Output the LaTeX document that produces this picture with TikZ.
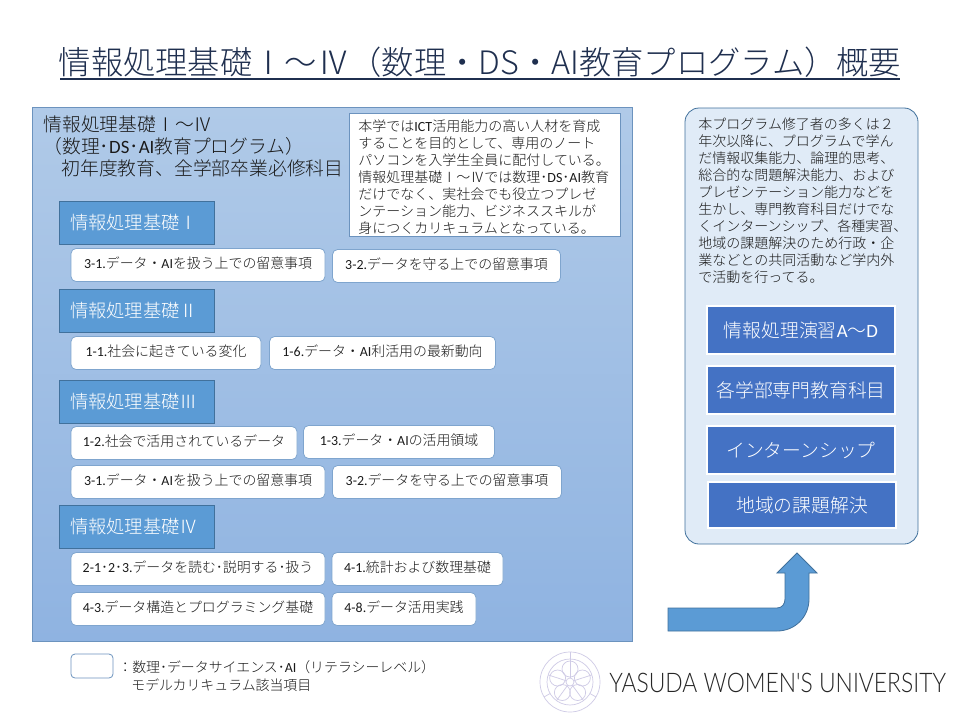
\documentclass[tikz,border=0pt]{standalone}
\usepackage{fontspec}
\setmainfont{Noto Sans CJK JP Light}
\newfontfamily\latin{Carlito}
\newfontfamily\logofont{Lato Light}[FakeStretch=0.847]
\newcommand{\en}[1]{{\latin #1}}
\definecolor{panelline}{HTML}{6C93BE}
\definecolor{itemline}{HTML}{7FA5CE}
\definecolor{paneltop}{HTML}{B0CAE8}
\definecolor{panelbottom}{HTML}{8FB3E1}
\definecolor{headblue}{HTML}{5B9BD5}
\definecolor{headline}{HTML}{41719C}
\definecolor{boxblue}{HTML}{4472C4}
\definecolor{sidefill}{HTML}{E0EBF7}
\definecolor{titleink}{HTML}{1F2F4F}
\definecolor{bodyink}{HTML}{1A1A1A}
\definecolor{logoline}{HTML}{CFCBE6}
\tikzset{
  headbox/.style={draw=headline,fill=headblue,text=white,minimum height=43,text width=133,
    inner xsep=11,inner ysep=0,align=left,font=\fontsize{18.3}{20}\selectfont},
  itembox/.style={draw=itemline,fill=white,rounded corners=5,minimum height=33,inner sep=0,
    text height=12,text depth=5,text=bodyink,font=\fontsize{13.9}{16}\selectfont},
  sidebox/.style={draw=white,line width=1.5,fill=boxblue,text=white,minimum width=188,inner sep=0,
    font=\fontsize{18.8}{20}\selectfont},
  bodytext/.style={text=bodyink,align=left,inner sep=0,font=\fontsize{14}{17}\selectfont},
}
\begin{document}
\begin{tikzpicture}[x=1pt,y=-1pt,line width=.8]
  \useasboundingbox[fill=white] (0,0) rectangle (960,720);
  \node[inner sep=0,text=titleink,font=\fontsize{32.3}{36}\selectfont] (title) at (480,62)
    {情報処理基礎Ⅰ～Ⅳ（数理・DS・AI教育プログラム）概要};
  \draw[titleink,line width=1.5] (60,79) -- (900,79);
  % left panel
  \draw[panelline,top color=paneltop,bottom color=panelbottom] (32,107) rectangle (632,641);
  \node[anchor=north west,inner sep=0,text=bodyink,align=left,font=\fontsize{18.8}{22}\selectfont] (paneltext) at (43,115)
    {情報処理基礎Ⅰ～Ⅳ\\
     （数理･\en{DS}･\en{AI}教育プログラム）\\
     \hspace{18pt}初年度教育、全学部卒業必修科目};
  \node[draw=panelline,fill=white,minimum width=271,minimum height=123,inner sep=0] (note) at (484.5,174.5) {};
  \node[bodytext,anchor=north west] (notetext) at (358,119.5)
    {本学では\en{ICT}活用能力の高い人材を育成\\
     することを目的として、専用のノート\\
     パソコンを入学生全員に配付している。\\
     情報処理基礎Ⅰ～Ⅳでは数理･\en{DS}･\en{AI}教育\\
     だけでなく、実社会でも役立つプレゼ\\
     ンテーション能力、ビジネススキルが\\
     身につくカリキュラムとなっている。};
  \node[headbox] (head1) at (136.5,222.5) {情報処理基礎Ⅰ};
  \node[itembox,minimum width=254] (item31a) at (198,265) {\en{3-1.}データ・\en{AI}を扱う上での留意事項};
  \node[itembox,minimum width=228] (item32a) at (446.5,266) {\en{3-2.}データを守る上での留意事項};
  \node[headbox] (head2) at (136.5,311) {情報処理基礎Ⅱ};
  \node[itembox,minimum width=190] (item11) at (166,353) {\en{1-1.}社会に起きている変化};
  \node[itembox,minimum width=226] (item16) at (382.5,353) {\en{1-6.}データ・\en{AI}利活用の最新動向};
  \node[headbox] (head3) at (136.5,401.5) {情報処理基礎Ⅲ};
  \node[itembox,minimum width=226] (item12) at (184,443) {\en{1-2.}社会で活用されているデータ};
  \node[itembox,minimum width=191] (item13) at (399,442) {\en{1-3.}データ・\en{AI}の活用領域};
  \node[itembox,minimum width=254] (item31b) at (198,482) {\en{3-1.}データ・\en{AI}を扱う上での留意事項};
  \node[itembox,minimum width=229] (item32b) at (447,482) {\en{3-2.}データを守る上での留意事項};
  \node[headbox] (head4) at (136.5,526.5) {情報処理基礎Ⅳ};
  \node[itembox,minimum width=254] (item21) at (198,569) {\en{2-1}･\en{2}･\en{3.}データを読む･説明する･扱う};
  \node[itembox,minimum width=171] (item41) at (417.5,569) {\en{4-1.}統計および数理基礎};
  \node[itembox,minimum width=254] (item43) at (198,609) {\en{4-3.}データ構造とプログラミング基礎};
  \node[itembox,minimum width=144] (item48) at (404,609) {\en{4-8.}データ活用実践};
  % right panel
  \draw[headline,fill=sidefill,rounded corners=14] (685,108) rectangle (918,544);
  \node[bodytext,anchor=north west] (sidetext) at (698,117)
    {本プログラム修了者の多くは２\\
     年次以降に、プログラムで学ん\\
     だ情報収集能力、論理的思考、\\
     総合的な問題解決能力、および\\
     プレゼンテーション能力などを\\
     生かし、専門教育科目だけでな\\
     くインターンシップ、各種実習、\\
     地域の課題解決のため行政・企\\
     業などとの共同活動など学内外\\
     で活動を行ってる。};
  \node[sidebox,minimum height=48] (enshu) at (801,330) {情報処理演習\en{A}～\en{D}};
  \node[sidebox,minimum height=48] (senmon) at (801,390) {各学部専門教育科目};
  \node[sidebox,minimum height=48] (intern) at (801,450) {インターンシップ};
  \node[sidebox,minimum height=46] (chiiki) at (802,505) {地域の課題解決};
  % bent arrow
  \draw[headline,fill=headblue] (668,608) -- (777,608) .. controls (782,608) and (785,604) .. (785,599)
    -- (785,573) -- (777,573) -- (797,553) -- (817,573) -- (809,573) -- (809,599)
    .. controls (809,617) and (795,631) .. (777,631) -- (668,631) -- cycle;
  % legend
  \node[draw=panelline,fill=white,rounded corners=4,minimum width=42,minimum height=24,inner sep=0] (legendbox) at (92,666) {};
  \node[bodytext,anchor=north west,font=\fontsize{13.9}{18}\selectfont] (legendtext) at (118,660)
    {：数理･データサイエンス･\en{AI}（リテラシーレベル）\\
     \hspace{13pt}モデルカリキュラム該当項目};
  % logo
  \begin{scope}[logoline,line width=.7]
    \draw (570,682) circle[radius=30];
    \draw (570,682) circle[radius=23];
    \draw (570,682) circle[radius=4];
    \foreach \a in {18,90,162,234,306}{
      \draw (570,682) ++(\a:-13) circle[radius=8];
      \draw (570,682) ++(\a:-4) -- ++(\a:-19);
    }
    \foreach \a in {30,150,270}{
      \draw (570,682) ++(\a:23) -- ++(\a:7);
    }
  \end{scope}
  \node[anchor=west,inner sep=0,text=black!85,font=\logofont\fontsize{27}{30}\selectfont] (logotext) at (609,683) {YASUDA WOMEN'S UNIVERSITY};
\end{tikzpicture}
\end{document}
